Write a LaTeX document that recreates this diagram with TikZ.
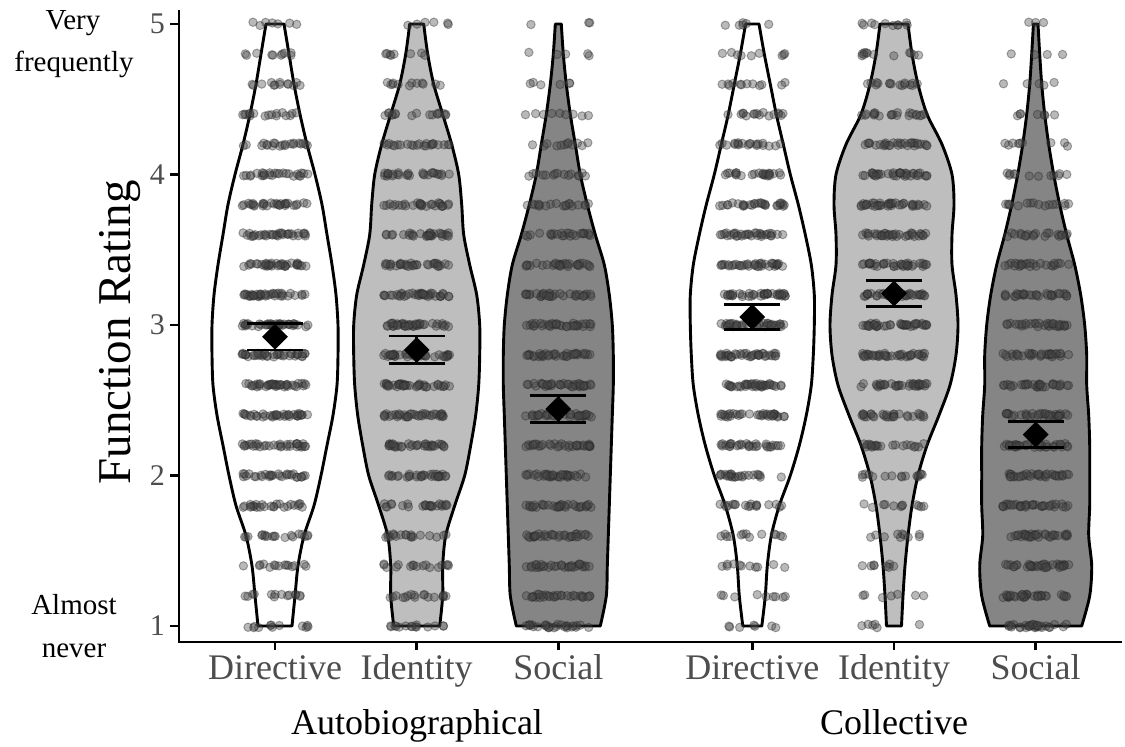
\documentclass[tikz,border=0pt]{standalone}
\usepackage{fontspec}
\setmainfont{Liberation Serif}
\usetikzlibrary{shapes.geometric}
\definecolor{ticktext}{HTML}{4D4D4D}
\definecolor{identfill}{HTML}{BEBEBE}
\definecolor{socialfill}{HTML}{858585}

\newcommand\violin[3]{%
    \gdef\rside{}\gdef\lside{}%
    \foreach \w [count=\i from 0] in {#3} {
        \pgfmathsetmacro\vv{5-0.2*\i}
        \xdef\rside{\rside (#1+\w,\vv)}
        \xdef\lside{(#1-\w,\vv)\lside}
    }
    \edef\vpath{\noexpand\filldraw[violin,fill=#2] plot[smooth] coordinates {\rside} -- plot[smooth] coordinates {\lside} -- cycle;}
    \vpath
    \foreach \w [count=\i from 0] in {#3} {
        \pgfmathsetmacro\vv{5-0.2*\i}
        \pgfmathtruncatemacro\nn{0.6*\w+2}
        \foreach \k in {1,...,\nn}
            \filldraw[dot] ({#1+33*rand},{\vv+0.012*rand}) circle[radius=4.2pt];
    }
}
\newcommand\meanbar[5]{%
    \draw[bar] (#2-28,#3) -- (#2+28,#3) (#2-28,#4) -- (#2+28,#4) (#2,#3) -- (#2,#4);
    \node[mean] (#1) at (#2,#5) {};
}

\begin{document}
\begin{tikzpicture}[x=1pt, y=1pt]
    \tikzstyle{violin}=[draw=black, line width=2.9pt, line join=round]
    \tikzstyle{dot}=[fill=black!72, draw=black!85, line width=1pt, opacity=0.38]
    \tikzstyle{bar}=[line width=2.8pt]
    \tikzstyle{mean}=[diamond, fill=black, inner sep=0pt, minimum size=26pt]
    \tikzstyle{axis}=[line width=2.8pt]
    \tikzstyle{tick label}=[text=ticktext, font=\fontsize{36}{36}\selectfont]
    \tikzstyle{end label}=[font=\fontsize{29}{29}\selectfont, anchor=base]
    \useasboundingbox (0,0) rectangle (1125,747);
    \begin{scope}[shift={(0pt,-29.5pt)}, y=150.5pt]
        \pgfmathsetseed{42}
        \violin{275}{white}{9,14,19,25,32,40,47,52,57,61,63,63,62,58,52,46,39,29,23,20,17}
        \violin{416.7}{identfill}{7,11,17,26,35,42,45,47,53,60,63,63,62,59,54,48,38,29,26,26,23}
        \violin{558.3}{socialfill}{3,5,8,12,17,22,29,37,46,51,54,55,55,54,53,52,51,50,49,48,42}
        \violin{752.3}{white}{6.7,12,18,24,31,38,46,53,59,62,62,61,59,54,47,38,27,19,15,13,9.5}
        \violin{894}{identfill}{14,18,24,33,48,58,60,58,58,62,64,62,56,45,33,24,18,14,11,9,7.5}
        \violin{1035.7}{socialfill}{2.3,4,6,9,13,18,24,31,39,45,49,51,51,53,54,54,54,53,56,54,46}
        \meanbar{autodir}{275}{2.834}{3.011}{2.922}
        \meanbar{autoid}{416.7}{2.745}{2.927}{2.834}
        \meanbar{autosoc}{558.3}{2.353}{2.53}{2.442}
        \meanbar{colldir}{752.3}{2.968}{3.134}{3.053}
        \meanbar{collid}{894}{3.123}{3.295}{3.209}
        \meanbar{collsoc}{1035.7}{2.186}{2.357}{2.272}
    \end{scope}
    \draw[axis] (179,737) -- (179,105) -- (1122,105);
    \foreach \v in {1,...,5} {
        \draw[axis] (170,{150.5*\v-29.5}) -- (179,{150.5*\v-29.5});
        \node[tick label, anchor=east, font=\fontsize{30}{30}\selectfont, inner sep=0pt] (yl\v) at (165,{150.5*\v-29.5}) {\v};
    }
    \foreach \cx/\lab [count=\j] in {275/Directive, 416.7/Identity, 558.3/Social, 752.3/Directive, 894/Identity, 1035.7/Social} {
        \draw[axis] (\cx,105) -- (\cx,97);
        \node[tick label, anchor=base, inner sep=0pt] (xl\j) at (\cx,67) {\lab};
    }
    \node[font=\fontsize{36}{36}\selectfont, anchor=base, inner sep=0pt] (auto) at (417,12) {Autobiographical};
    \node[font=\fontsize{36}{36}\selectfont, anchor=base, inner sep=0pt] (coll) at (894,12) {Collective};
    \node[font=\fontsize{47}{47}\selectfont, rotate=90, anchor=base, inner sep=0pt] (ytitle) at (130,414.5) {Function Rating};
    \node[end label] (very) at (73,717) {Very};
    \node[end label] (freq) at (74,675) {frequently};
    \node[end label] (almost) at (74,132) {Almost};
    \node[end label] (never) at (74,89) {never};
\end{tikzpicture}
\end{document}
